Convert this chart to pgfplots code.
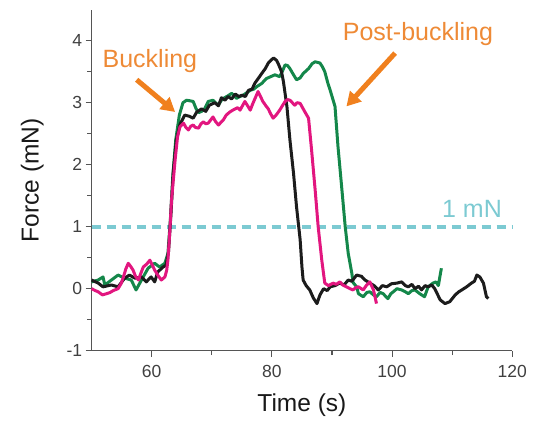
\documentclass[border=0pt]{standalone}
\usepackage{fontspec}
\setmainfont{Liberation Sans}
\usepackage{pgfplots}
\pgfplotsset{compat=1.18}
\usetikzlibrary{arrows.meta}

\definecolor{cblack}{HTML}{1C1C1C}
\definecolor{cgreen}{HTML}{14874A}
\definecolor{cmagenta}{HTML}{E2167F}
\definecolor{ccyan}{HTML}{7CCAD2}
\definecolor{carrow}{HTML}{F0801E}
\definecolor{ctext}{HTML}{EE8A36}
\definecolor{caxis}{HTML}{555555}

\begin{document}
\begin{tikzpicture}
\begin{axis}[
  name=ax,
  scale only axis,
  width=420.7bp, height=341bp,
  xmin=50, xmax=120,
  ymin=-1, ymax=4.5,
  xtick={60,80,100,120},
  ytick={-1,0,1,2,3,4},
  minor x tick num=1,
  minor y tick num=1,
  axis x line*=bottom,
  axis y line*=left,
  axis line style={-, caxis, line width=1.2bp},
  tick align=outside,
  major tick length=6bp,
  minor tick length=4.5bp,
  tick style={caxis, line width=1.1bp},
  /pgf/number format/assume math mode=true,
  ticklabel style={font=\fontsize{17.5bp}{20bp}\selectfont, text=black!75},
  xticklabel style={yshift=-5bp},
  xlabel={Time (s)},
  ylabel={Force (mN)},
  label style={font=\fontsize{24.5bp}{28bp}\selectfont, text=black!90},
  xlabel style={yshift=-9bp},
  ylabel style={yshift=16bp},
  clip=false,
]
\addplot[ccyan, line width=4bp, dash pattern=on 9bp off 6bp] coordinates {(50,1) (120,1)};

\addplot[cgreen, line width=3bp, line join=round] coordinates {
(50,0.11) (51.1,0.14) (51.9,0.19) (52.2,0.06) (53.3,0.14) (54.4,0.22) (55.5,0.17) (56.6,0.14)
(57.4,-0.02) (58.3,0.14) (59.4,0.33) (60.5,0.41) (61.3,0.35) (62.2,0.41) (62.7,0.57)
(63.1,1.1) (63.5,1.8) (64.0,2.4) (64.6,2.8) (65.2,3.0) (65.8,3.04) (66.4,3.03) (66.9,3.02)
(67.4,2.9) (67.8,2.84) (68.3,2.86) (68.8,2.9) (69.4,3.02) (70.2,3.04) (70.6,3.0) (71.1,2.96)
(71.6,3.04) (72.1,3.08) (72.5,3.1) (73.3,3.15) (73.7,3.12) (74.1,3.07) (74.7,3.1) (75.2,3.12)
(75.8,3.16) (76.4,3.2) (77.0,3.22) (77.5,3.26) (78.3,3.31) (78.7,3.35) (79.1,3.39) (79.8,3.42)
(80.5,3.45) (81.3,3.42) (81.8,3.52) (82.2,3.61) (82.6,3.6) (83,3.55) (83.6,3.45) (84.1,3.37)
(84.7,3.4) (85.2,3.47) (86.1,3.55) (86.7,3.63) (87.2,3.66) (88,3.64) (88.4,3.58) (88.8,3.5)
(89.3,3.32) (89.7,3.2) (90.5,2.94) (91,2.29) (91.6,1.65) (92.2,1.0) (92.7,0.57) (93.3,0.25)
(93.5,0.1) (94.1,0.03) (94.4,-0.08) (95.2,-0.13) (95.8,-0.06) (96.3,-0.05) (96.9,-0.1)
(97.4,-0.13) (98.0,-0.06) (98.5,-0.08) (99.3,-0.16) (99.8,-0.08) (100.2,-0.05) (100.8,0.0)
(101.6,-0.02) (102.2,-0.05) (102.7,-0.08) (103.3,-0.03) (103.8,-0.02) (104.6,-0.08)
(105.4,-0.13) (106,0.03) (106.8,0.09) (107.3,0.11) (107.7,0.05) (108,0.22) (108.2,0.33)
};

\addplot[cblack, line width=3bp, line join=round] coordinates {
(50,0.14) (51.1,0.09) (51.9,0.03) (53.3,0.06) (54.4,0.03) (55.5,0.17) (56.3,0.22) (57.2,0.17)
(58.3,0.19) (59.1,0.11) (59.9,0.19) (60.5,0.11) (61,0.27) (61.9,0.35) (62.4,0.38) (62.8,0.6)
(63.2,1.2) (63.6,1.9) (64.1,2.4) (64.7,2.65) (65.5,2.8) (66.3,2.78) (66.9,2.75) (67.5,2.85)
(68.3,2.9) (69.0,2.86) (69.6,2.96) (70.5,3.0) (71.1,2.95) (71.6,3.08) (72.2,3.04) (72.7,3.1)
(73.3,3.06) (73.9,3.14) (74.5,3.1) (75.0,3.12) (75.6,3.1) (76.1,3.2) (76.7,3.22) (77.2,3.32)
(77.8,3.4) (78.3,3.47) (78.9,3.55) (79.4,3.64) (80.0,3.7) (80.3,3.72) (80.8,3.68) (81.1,3.62)
(81.6,3.5) (81.9,3.35) (82.5,2.94) (83,2.4) (83.6,1.86) (84.1,1.32) (84.7,0.79) (85,0.35)
(85.2,0.14) (85.7,0.05) (86.3,-0.02) (86.9,-0.15) (87.5,-0.24) (88.0,-0.1) (88.6,0.0)
(89.2,-0.03) (89.7,0.03) (90.5,0.05) (91.3,0.09) (92.0,0.06) (92.7,0.14) (93.3,0.12)
(94.1,0.22) (94.9,0.2) (95.5,0.14) (96.3,0.09) (97.0,0.05) (97.7,-0.02) (98.4,0.05)
(99.1,0.03) (99.9,0.08) (100.8,0.09) (101.6,0.11) (102.2,0.05) (102.7,0.03) (103.3,0.07)
(103.8,0.0) (104.4,0.04) (104.9,-0.02) (105.5,0.05) (106.0,0.03) (106.6,0.06) (107.1,0.0)
(107.6,-0.1) (108.0,-0.18) (108.8,-0.24) (109.6,-0.21) (110.5,-0.1) (111.1,-0.05)
(111.6,-0.02) (112.4,0.03) (113.2,0.09) (113.7,0.12) (114.1,0.22) (114.6,0.19) (115.2,0.09)
(115.7,-0.13) (116.0,-0.16)
};

\addplot[cmagenta, line width=3bp, line join=round] coordinates {
(50,0.0) (50.6,-0.03) (51.1,-0.05) (51.8,-0.1) (52.5,-0.08) (53.1,-0.06) (53.6,-0.03)
(54.4,0.0) (54.9,0.08) (55.3,0.19) (55.7,0.32) (56.1,0.41) (56.5,0.36) (56.9,0.3) (57.3,0.2)
(57.8,0.14) (58.2,0.25) (58.6,0.35) (59.2,0.4) (59.7,0.46) (60.1,0.38) (60.5,0.3) (61.0,0.22)
(61.6,0.14) (62.2,0.19) (62.5,0.3) (62.7,0.46) (63.0,0.9) (63.3,1.43) (63.9,2.08) (64.3,2.45)
(64.7,2.61) (65.3,2.67) (65.7,2.6) (66.1,2.56) (66.5,2.62) (66.9,2.64) (67.3,2.6) (67.8,2.59)
(68.2,2.66) (68.6,2.69) (69.0,2.66) (69.4,2.67) (69.8,2.72) (70.2,2.77) (70.6,2.7) (71.1,2.64)
(71.5,2.68) (71.9,2.72) (72.4,2.8) (73.0,2.85) (73.5,2.88) (73.9,2.9) (74.3,2.92) (74.7,2.88)
(75.1,2.95) (75.5,3.02) (75.9,2.96) (76.4,2.88) (76.8,2.98) (77.2,3.07) (77.7,3.18) (78.1,3.1)
(78.5,3.02) (79.0,2.95) (79.4,2.9) (79.8,2.82) (80.2,2.75) (80.7,2.8) (81.3,2.88) (81.8,2.96)
(82.2,3.02) (82.6,3.05) (83,3.04) (83.4,3.0) (83.8,2.96) (84.2,3.0) (84.7,2.99) (85.1,2.92)
(85.5,2.85) (86.1,2.75) (86.6,2.24) (87.2,1.59) (87.7,1.0) (88.3,0.46) (88.8,0.09) (89.4,0.05)
(90.2,0.09) (90.7,0.07) (91.3,0.11) (91.8,0.06) (92.4,0.03) (93.0,0.0) (93.5,-0.02) (94.0,0.02)
(94.4,0.03) (95.2,-0.02) (95.7,0.05) (96.3,0.11) (96.9,-0.02) (97.2,-0.15) (97.4,-0.24)
};

% annotations
\draw[carrow, line width=5bp, -{Triangle[length=14bp,width=15bp]}]
  (axis cs:57.5,3.37) -- (axis cs:63.9,2.85);
\draw[carrow, line width=5bp, -{Triangle[length=14bp,width=15bp]}]
  (axis cs:100.5,3.80) -- (axis cs:92.4,2.94);
\node[text=ctext, font=\fontsize{25bp}{30bp}\selectfont] at (axis cs:59.7,3.67) {Buckling};
\node[text=ctext, font=\fontsize{25bp}{30bp}\selectfont] at (axis cs:104.3,4.11) {Post-buckling};
\node[text=ccyan, font=\fontsize{25bp}{30bp}\selectfont] at (axis cs:113.3,1.28) {1 mN};
\end{axis}
\pgfresetboundingbox
\path[use as bounding box] (-91.6bp,-71.3bp) rectangle (446.4bp,350.7bp);
\end{tikzpicture}
\end{document}
